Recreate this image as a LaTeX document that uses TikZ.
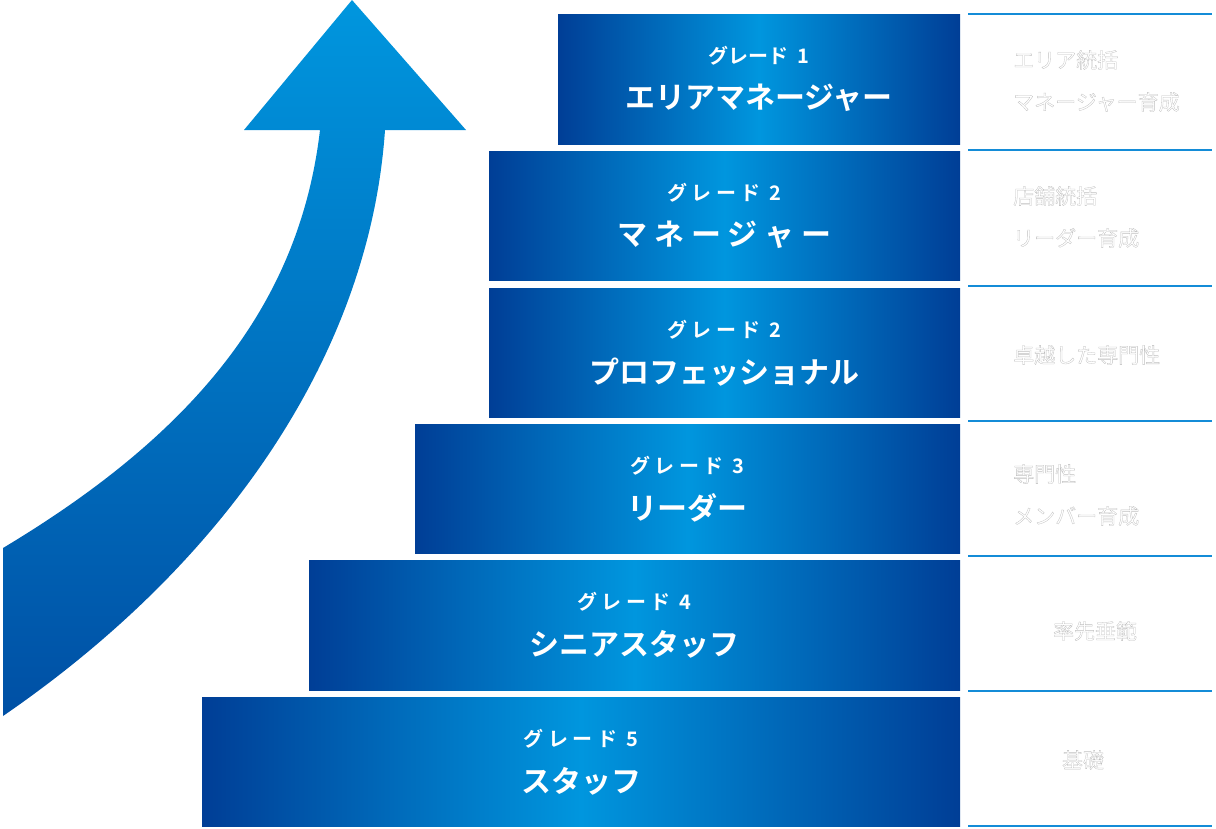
\documentclass[tikz,border=0pt]{standalone}
\usepackage{fontspec}
\newfontfamily\jpb{Noto Sans CJK JP Bold}
\newfontfamily\jp{Noto Sans CJK JP}
\usetikzlibrary{positioning}
\definecolor{bluedark}{RGB}{0,62,150}
\definecolor{bluelight}{RGB}{0,150,222}
\definecolor{rulecol}{RGB}{20,140,215}
\tikzset{
  gradebar/.style={inner sep=0pt,outer sep=0pt,left color=bluedark,right color=bluedark,middle color=bluelight},
  gradetext/.style={text=white,font=\jpb\fontsize{20}{24}\selectfont,align=center},
  titletext/.style={text=white,font=\jpb\fontsize{30}{36}\selectfont,align=center},
  roletext/.style={text=white,draw=none,font=\jp\fontsize{21}{42}\selectfont,align=left,
    postaction={}},
}
\newcommand{\roleoutline}[1]{\pdfliteral{}#1}
\begin{document}
\begin{tikzpicture}[x=1pt,y=-1pt]
  \useasboundingbox (0,0) rectangle (1216,828);
  % arrow
  \shade[bottom color=bluedark!80!bluelight,top color=bluelight]
    (3,548) .. controls (200,430) and (300,300) .. (320,130)
    -- (244,130) -- (352,0) -- (466,130) -- (385,130)
    .. controls (370,350) and (230,560) .. (3,716) -- cycle;
  % grade bars
  \foreach \nm/\l/\t/\r/\b/\g/\ti in {
      b1/558/14/960/144/{グレード\ \ 1}/{エリアマネージャー},
      b2/489/151/960/280/{グ レ ー ド\ \ 2}/{マ ネ ー ジ ャ ー},
      b3/489/288/960/417/{グ レ ー ド\ \ 2}/{プロフェッショナル},
      b4/415/424/960/553/{グ レ ー ド\ \ 3}/{リーダー},
      b5/309/560/960/690/{グ レ ー ド\ \ 4}/{シニアスタッフ},
      b6/202/697/960/826/{グ レ ー ド\ \ 5}/{スタッフ}}{
    \shade[gradebar] (\l,\t) rectangle (\r,\b);
    \node[gradetext] (\nm g) at ({(\l+\r)/2},\t+42) {\g};
    \node[titletext] (\nm t) at ({(\l+\r)/2},\t+84) {\ti};
  }
  % rules on the right
  \foreach \y in {14,150,286,421,556,691,826}
    \draw[rulecol,line width=1.2pt] (968,\y) -- (1212,\y);
  % role labels (white text with light outline)
  \tikzset{rl/.style={text=white,font=\jp\fontsize{21}{42}\selectfont,align=left,inner sep=0pt}}
  \node[rl,anchor=west] (r1) at (1013,81) {\special{pdf:literal 1 Tr 0.3 w 0.75 G}エリア統括\\マネージャー育成};
  \node[rl,anchor=west] (r2) at (1013,217) {\special{pdf:literal 1 Tr 0.3 w 0.75 G}店舗統括\\リーダー育成};
  \node[rl,anchor=west] (r3) at (1013,355) {\special{pdf:literal 1 Tr 0.3 w 0.75 G}卓越した専門性};
  \node[rl,anchor=west] (r4) at (1013,495) {\special{pdf:literal 1 Tr 0.3 w 0.75 G}専門性\\メンバー育成};
  \node[rl] (r5) at (1095,631) {\special{pdf:literal 1 Tr 0.3 w 0.75 G}率先垂範};
  \node[rl] (r6) at (1083,760) {\special{pdf:literal 1 Tr 0.3 w 0.75 G}基礎};
\end{tikzpicture}
\end{document}
